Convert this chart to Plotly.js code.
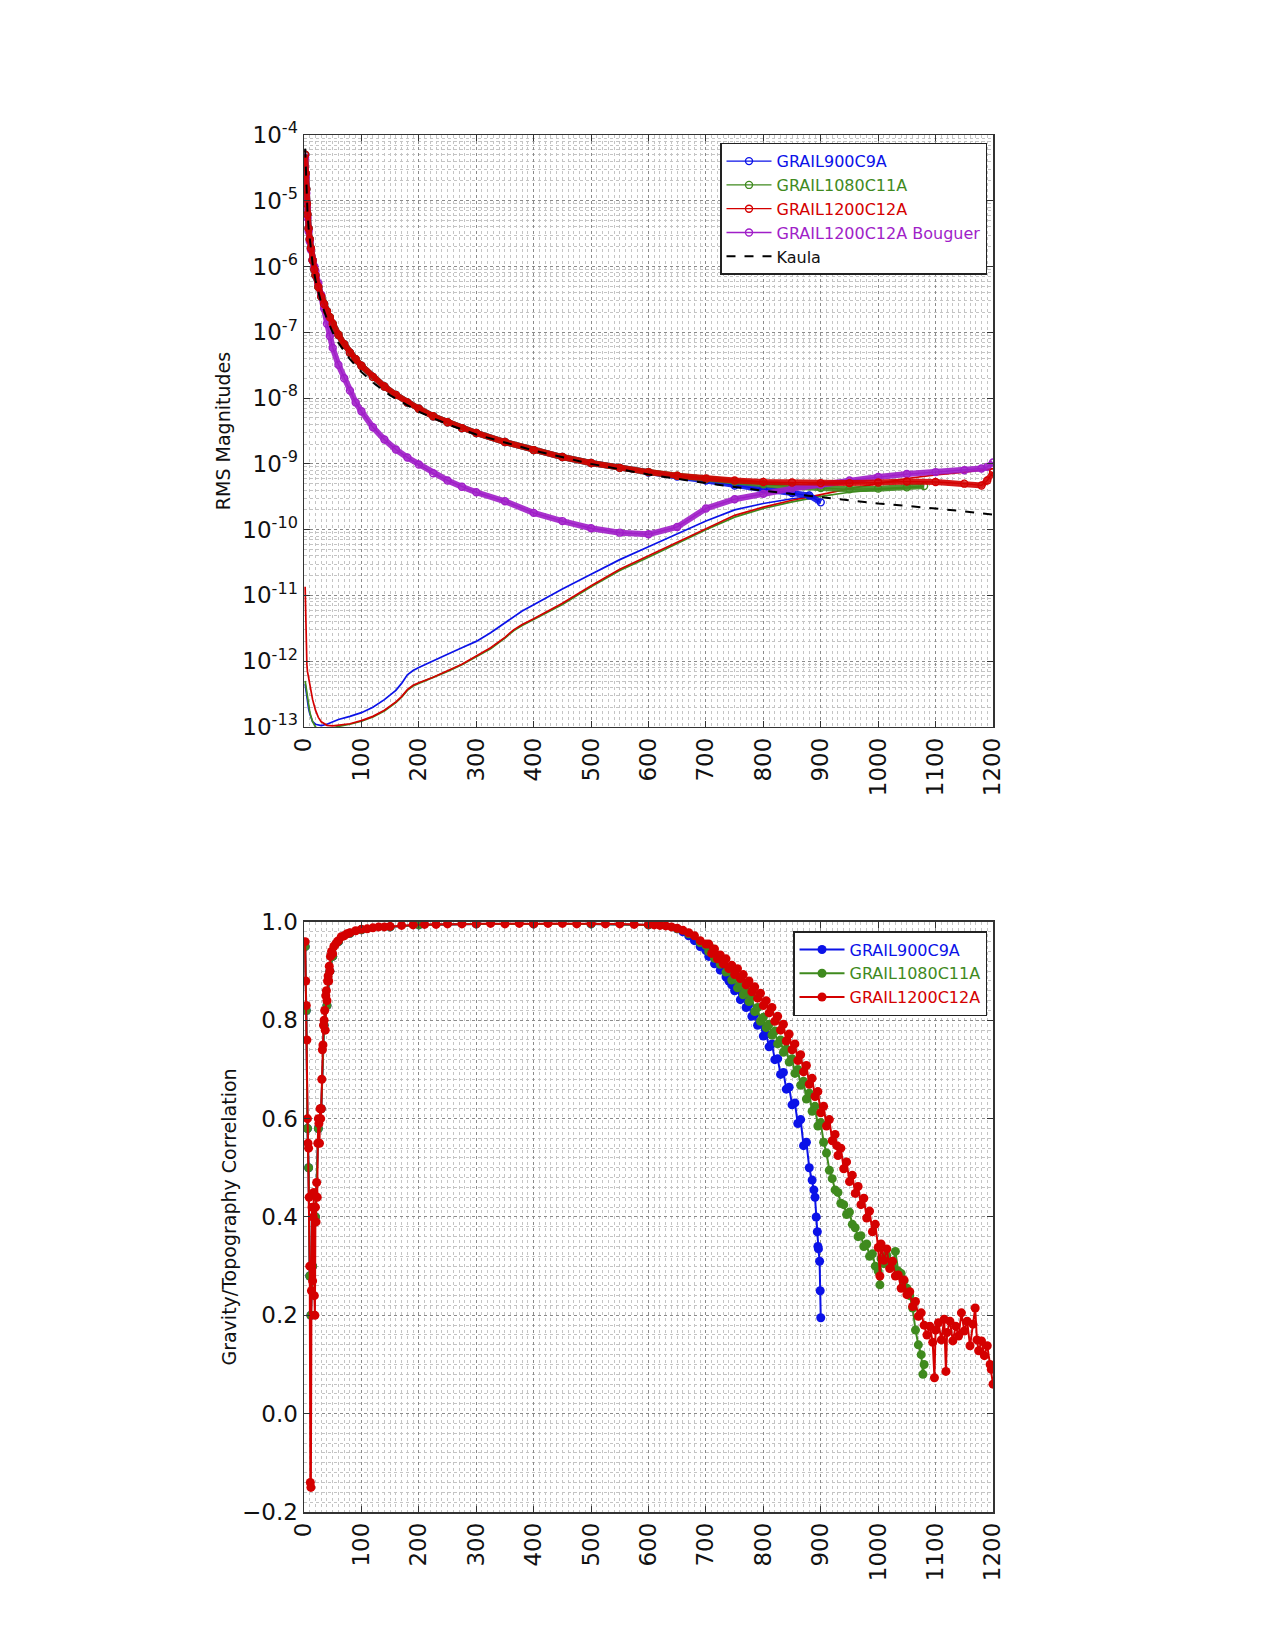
<!DOCTYPE html>
<html>
<head>
<meta charset="utf-8">
<script src="https://cdn.plot.ly/plotly-3.0.1.min.js"></script>
<style>
  body { margin: 0; background: white; }
  #chart { width: 1275px; height: 1650px; }
</style>
</head>
<body>
<div id="chart"></div>
<script>
// ---- top panel: RMS magnitudes per degree ----
var sigDeg = [2,3,4,5,6,8,10,12,15,18,20,25,30,35,40,45,50,60,70,80,90,100,120,140,160,180,200,225,250,275,
              300,350,400,450,500,550,600,650,700,750,800,850,900,950,1000,1050,1100,1150,1180,1190,1200];

var sig1200 = [5e-5,2.6e-5,1.5e-5,9e-6,6.2e-6,3.8e-6,2.6e-6,1.9e-6,1.25e-6,9e-7,
               7.4e-7,4.9e-7,3.5e-7,2.7e-7,2.1e-7,1.7e-7,1.35e-7,9.2e-8,6.6e-8,4.9e-8,
               3.9e-8,3.1e-8,2.1e-8,1.5e-8,1.12e-8,8.6e-9,6.9e-9,5.3e-9,4.3e-9,3.5e-9,
               2.95e-9,2.15e-9,1.62e-9,1.27e-9,1.03e-9,8.7e-10,7.5e-10,6.6e-10,6e-10,5.6e-10,
               5.3e-10,5.2e-10,5.1e-10,5.1e-10,5.2e-10,5.4e-10,5.3e-10,5e-10,4.7e-10,5.6e-10,7.5e-10];

var sigDeg900 = [2,3,4,5,6,8,10,12,15,18,20,25,30,35,40,45,50,60,70,80,90,100,120,140,160,180,200,225,250,275,
                 300,350,400,450,500,550,600,650,700,750,800,850,880,900];
var sig900 = [5e-5,2.6e-5,1.5e-5,9e-6,6.2e-6,3.8e-6,2.6e-6,1.9e-6,1.25e-6,9e-7,
              7.3e-7,4.9e-7,3.5e-7,2.7e-7,2.1e-7,1.7e-7,1.34e-7,9.1e-8,6.6e-8,4.9e-8,
              3.9e-8,3.1e-8,2.1e-8,1.5e-8,1.12e-8,8.6e-9,6.9e-9,5.3e-9,4.3e-9,3.5e-9,
              2.95e-9,2.15e-9,1.62e-9,1.27e-9,1.03e-9,8.7e-10,7.4e-10,6.4e-10,5.6e-10,4.7e-10,
              4.1e-10,3.6e-10,3.3e-10,2.6e-10];

var sigDeg1080 = [2,3,4,5,6,8,10,12,15,18,20,25,30,35,40,45,50,60,70,80,90,100,120,140,160,180,200,225,250,275,
                  300,350,400,450,500,550,600,650,700,750,800,850,900,950,1000,1050,1080];
var sig1080 = [5e-5,2.6e-5,1.5e-5,9e-6,6.2e-6,3.8e-6,2.6e-6,1.9e-6,1.25e-6,9e-7,
               7.4e-7,4.9e-7,3.5e-7,2.7e-7,2.1e-7,1.7e-7,1.35e-7,9.2e-8,6.6e-8,4.9e-8,
               3.9e-8,3.1e-8,2.1e-8,1.5e-8,1.12e-8,8.6e-9,6.9e-9,5.3e-9,4.3e-9,3.5e-9,
               2.95e-9,2.15e-9,1.62e-9,1.27e-9,1.03e-9,8.7e-10,7.5e-10,6.6e-10,5.9e-10,5.4e-10,
               4.9e-10,4.5e-10,4.3e-10,4.1e-10,4.2e-10,4.4e-10,4.6e-10];

var sigBouguer = [4.5e-5,2.3e-5,1.3e-5,8e-6,5.5e-6,3.4e-6,2.4e-6,1.8e-6,1.25e-6,1e-6,
                  8.5e-7,5.6e-7,3.7e-7,2.3e-7,1.35e-7,8.8e-8,5.8e-8,3.2e-8,2e-8,1.3e-8,
                  8.6e-9,6.3e-9,3.6e-9,2.35e-9,1.65e-9,1.25e-9,9.8e-10,7.2e-10,5.6e-10,4.5e-10,
                  3.7e-10,2.7e-10,1.8e-10,1.35e-10,1.05e-10,9e-11,8.5e-11,1.1e-10,2.1e-10,2.9e-10,
                  3.5e-10,4.2e-10,4.8e-10,5.6e-10,6.3e-10,7e-10,7.5e-10,8e-10,8.5e-10,9e-10,1.05e-9];

var kaulaDeg = [2,3,4,5,6,8,10,12,15,20,25,30,40,50,60,80,100,125,150,200,250,300,400,500,600,700,800,900,1000,1100,1200];
var kaula = [6.2e-5,2.8e-5,1.6e-5,1e-5,6.9e-6,3.9e-6,2.5e-6,1.7e-6,1.1e-6,6.2e-7,
             4e-7,2.8e-7,1.6e-7,1e-7,6.9e-8,3.9e-8,2.5e-8,1.6e-8,1.1e-8,6.2e-9,
             4e-9,2.8e-9,1.6e-9,1e-9,6.9e-10,5.1e-10,3.9e-10,3.1e-10,2.5e-10,2.1e-10,1.7e-10];

var errDeg = [2,3,4,5,6,8,10,12,15,20,25,30,40,50,60,80,100,120,140,160,170,180,190,200,225,250,275,300,325,350,
              365,380,400,450,500,550,600,650,700,750,800,850,900,950,1000,1050,1100,1150,1200];
var err1200 = [1.35e-11,3e-12,1.5e-12,9e-13,7e-13,5.5e-13,4.5e-13,3.6e-13,2.6e-13,1.8e-13,
               1.4e-13,1.2e-13,1.06e-13,1.04e-13,1.06e-13,1.12e-13,1.25e-13,1.45e-13,1.8e-13,2.4e-13,
               2.9e-13,3.7e-13,4.3e-13,4.7e-13,5.7e-13,7.1e-13,9e-13,1.2e-12,1.6e-12,2.3e-12,
               3e-12,3.6e-12,4.4e-12,7.6e-12,1.4e-11,2.5e-11,4e-11,6.5e-11,1.05e-10,1.65e-10,
               2.2e-10,2.8e-10,3.4e-10,4.2e-10,5e-10,6e-10,6.8e-10,7.5e-10,8.5e-10];

var errDeg1080 = [2,3,4,5,6,8,10,12,15,20,25,30,40,50,60,80,100,120,140,160,170,180,190,200,225,250,275,300,325,350,
                  365,380,400,450,500,550,600,650,700,750,800,850,900,950,1000,1050,1080];
var err1080 = [5e-13,4.3e-13,3.6e-13,3e-13,2.6e-13,2e-13,1.7e-13,1.45e-13,1.2e-13,1e-13,
               9.2e-14,8.8e-14,9e-14,9.6e-14,1.02e-13,1.1e-13,1.22e-13,1.42e-13,1.75e-13,2.35e-13,
               2.85e-13,3.6e-13,4.2e-13,4.6e-13,5.6e-13,7e-13,8.8e-13,1.17e-12,1.55e-12,2.25e-12,
               2.9e-12,3.5e-12,4.3e-12,7.3e-12,1.35e-11,2.4e-11,3.8e-11,6.2e-11,1e-10,1.55e-10,
               2.1e-10,2.65e-10,3.2e-10,3.7e-10,4.1e-10,4.3e-10,4.5e-10];

var errDeg900 = [2,3,4,5,6,8,10,12,15,20,25,30,40,50,60,80,100,120,140,160,170,180,190,200,225,250,275,300,325,350,
                 365,380,400,450,500,550,600,650,700,750,800,850,900];
var err900 = [4.5e-13,3.8e-13,3.2e-13,2.8e-13,2.4e-13,1.9e-13,1.6e-13,1.4e-13,1.2e-13,1.1e-13,
              1.06e-13,1.05e-13,1.1e-13,1.2e-13,1.3e-13,1.45e-13,1.65e-13,2e-13,2.6e-13,3.6e-13,
              4.6e-13,6.2e-13,7.2e-13,8e-13,1.02e-12,1.28e-12,1.6e-12,2e-12,2.7e-12,3.8e-12,
              4.8e-12,5.8e-12,7.2e-12,1.25e-11,2.1e-11,3.5e-11,5.5e-11,8.7e-11,1.35e-10,2e-10,
              2.5e-10,2.95e-10,3.3e-10];

var logTickVals = [1e-13,1e-12,1e-11,1e-10,1e-9,1e-8,1e-7,1e-6,1e-5,1e-4];
var logTickText = ['10<sup>-13</sup>','10<sup>-12</sup>','10<sup>-11</sup>','10<sup>-10</sup>','10<sup>-9</sup>',
                   '10<sup>-8</sup>','10<sup>-7</sup>','10<sup>-6</sup>','10<sup>-5</sup>','10<sup>-4</sup>'];

// ---- bottom panel: gravity/topography correlation, [degree, value] ----
var corr1200 = [[2,0.96],[3,0.88],[4,0.83],[5,0.76],[6,0.60],[7,0.55],[8,0.54],[9,0.44],[10,0.30],[11,-0.14],
  [12,-0.15],[13,0.25],[14,0.42],[15,0.27],[16,0.40],[17,0.45],[18,0.24],[19,0.20],[20,0.42],[21,0.39],
  [22,0.47],[23,0.44],[24,0.55],[25,0.60],[26,0.59],[27,0.55],[28,0.62],[29,0.60],[30,0.62],[31,0.68],
  [32,0.74],[33,0.75],[34,0.79],[35,0.80],[36,0.82],[37,0.78],[38,0.85],[39,0.86],[40,0.84],[41,0.88],
  [42,0.89],[43,0.88],[44,0.91],[45,0.90],[46,0.93],[48,0.94],[50,0.935],[52,0.95],[55,0.955],[58,0.96],
  [60,0.962],[65,0.97],[70,0.972],[75,0.976],[80,0.978],[90,0.982],[100,0.985],[110,0.986],[120,0.988],
  [130,0.99],[140,0.99],[150,0.991],[170,0.993],[190,0.994],[210,0.995],[230,0.995],[250,0.996],[275,0.996],
  [300,0.996],[325,0.997],[350,0.996],[375,0.997],[400,0.996],[425,0.997],[450,0.997],[475,0.996],[500,0.997],
  [525,0.996],[550,0.996],[575,0.995],[600,0.995],[610,0.994],[620,0.993],[630,0.992],[640,0.99],[650,0.987],
  [660,0.983],[670,0.978],[680,0.972],[690,0.962],[700,0.955],[705,0.955],[710,0.936],[715,0.945],[720,0.925],
  [725,0.933],[730,0.915],[735,0.925],[740,0.905],[745,0.912],[750,0.893],[755,0.905],[760,0.885],[765,0.893],
  [770,0.872],[775,0.880],[780,0.858],[785,0.868],[790,0.845],[795,0.855],[800,0.830],[805,0.840],[810,0.815],
  [815,0.826],[820,0.798],[825,0.808],[830,0.780],[835,0.792],[840,0.758],[845,0.772],[850,0.740],[855,0.752],
  [860,0.718],[865,0.730],[870,0.695],[875,0.708],[880,0.670],[885,0.682],[890,0.645],[895,0.655],[900,0.612],
  [905,0.625],[910,0.585],[915,0.598],[920,0.555],[925,0.568],[928,0.545],[930,0.525],[935,0.540],[940,0.498],
  [945,0.512],[950,0.472],[955,0.485],[960,0.448],[965,0.462],[970,0.425],[975,0.438],[980,0.398],[985,0.412],
  [990,0.370],[995,0.385],[1000,0.338],[1003,0.280],[1005,0.345],[1010,0.312],[1015,0.335],[1020,0.295],
  [1025,0.310],[1030,0.280],[1035,0.282],[1040,0.255],[1045,0.272],[1050,0.242],[1055,0.248],[1060,0.218],
  [1065,0.228],[1070,0.198],[1075,0.205],[1080,0.180],[1085,0.160],[1090,0.178],[1095,0.145],[1098,0.073],
  [1100,0.170],[1105,0.185],[1110,0.150],[1115,0.192],[1118,0.086],[1120,0.165],[1125,0.188],[1130,0.148],
  [1135,0.178],[1140,0.158],[1145,0.205],[1150,0.168],[1155,0.188],[1160,0.138],[1165,0.182],[1169,0.215],
  [1172,0.150],[1175,0.128],[1180,0.148],[1185,0.118],[1190,0.138],[1195,0.100],[1197,0.090],[1200,0.060]];

var corr1080 = [[2,0.95],[4,0.82],[6,0.58],[8,0.50],[10,0.28],[12,0.20],[15,0.30],[20,0.40],[25,0.58],[30,0.62],
  [35,0.79],[40,0.83],[45,0.90],[50,0.93],[60,0.96],[80,0.977],[100,0.984],[150,0.99],[200,0.994],[300,0.996],
  [400,0.996],[500,0.996],[600,0.994],[650,0.986],[670,0.976],[690,0.958],[700,0.952],[705,0.940],[710,0.946],
  [715,0.926],[720,0.932],[725,0.914],[730,0.918],[735,0.898],[740,0.902],[745,0.882],[750,0.888],[755,0.866],
  [760,0.874],[765,0.852],[770,0.862],[775,0.838],[780,0.848],[785,0.818],[790,0.826],[795,0.798],[800,0.806],
  [805,0.785],[810,0.792],[815,0.770],[820,0.778],[825,0.752],[830,0.760],[835,0.735],[840,0.742],[845,0.715],
  [850,0.722],[855,0.692],[860,0.700],[865,0.668],[870,0.676],[875,0.640],[880,0.652],[885,0.615],[890,0.625],
  [895,0.585],[900,0.592],[905,0.552],[910,0.530],[915,0.495],[920,0.478],[925,0.455],[930,0.450],[935,0.428],
  [940,0.425],[945,0.405],[950,0.410],[955,0.385],[960,0.378],[965,0.360],[970,0.362],[975,0.340],[980,0.345],
  [985,0.320],[990,0.325],[995,0.300],[1000,0.290],[1003,0.262],[1005,0.315],[1010,0.305],[1015,0.322],
  [1020,0.310],[1025,0.300],[1030,0.330],[1035,0.290],[1040,0.285],[1045,0.270],[1050,0.255],[1055,0.240],
  [1060,0.215],[1065,0.170],[1070,0.140],[1075,0.120],[1078,0.080],[1080,0.100]];

var corr900 = [[2,0.95],[4,0.82],[6,0.58],[8,0.50],[10,0.28],[12,0.20],[15,0.30],[20,0.40],[25,0.58],[30,0.62],
  [35,0.79],[40,0.83],[45,0.90],[50,0.93],[60,0.96],[80,0.977],[100,0.984],[150,0.99],[200,0.994],[300,0.996],
  [400,0.996],[500,0.996],[600,0.994],[650,0.986],[660,0.980],[670,0.972],[680,0.962],[690,0.950],[700,0.942],
  [705,0.930],[710,0.934],[715,0.915],[720,0.920],[725,0.902],[730,0.906],[735,0.888],[740,0.880],[745,0.872],
  [750,0.860],[755,0.864],[760,0.842],[765,0.850],[770,0.826],[775,0.832],[780,0.808],[785,0.812],[790,0.790],
  [795,0.794],[800,0.768],[805,0.772],[810,0.746],[815,0.752],[820,0.720],[825,0.722],[830,0.690],[835,0.694],
  [840,0.660],[845,0.664],[850,0.628],[855,0.632],[860,0.590],[865,0.598],[870,0.545],[875,0.552],[880,0.500],
  [885,0.475],[888,0.455],[890,0.440],[892,0.400],[894,0.370],[895,0.340],[896,0.335],[898,0.310],[899,0.250],
  [900,0.195]];

var BLUE = '#0b12e8', GREEN = '#3f8a1e', RED = '#d40000', PURPLE = '#a01ec8';
var FONT = 'DejaVu Sans, sans-serif';

function label(text, color)
{
    return '<span style="color:' + color + '">' + text + '</span>';
}

// wide band under the open circles, to mimic the dense per-degree markers
function bandTrace(x, y, color)
{
    return {
        x: x, y: y, xaxis: 'x', yaxis: 'y', mode: 'lines', showlegend: false,
        line: {color: color, width: 6}, opacity: 0.9
    };
}

function signalTrace(x, y, name, color, rank)
{
    return {
        x: x, y: y, xaxis: 'x', yaxis: 'y',
        mode: 'lines+markers', name: label(name, color), legendrank: rank,
        line: {color: color, width: 1.3},
        marker: {symbol: 'circle-open', size: 7, color: color, line: {width: 1.4, color: color}}
    };
}

function errorTrace(x, y, color)
{
    return {
        x: x, y: y, xaxis: 'x', yaxis: 'y', mode: 'lines', showlegend: false,
        line: {color: color, width: 1.7}
    };
}

function corrTrace(points, name, color)
{
    return {
        x: points.map(function(p) { return p[0]; }),
        y: points.map(function(p) { return p[1]; }),
        xaxis: 'x2', yaxis: 'y2', legend: 'legend2',
        mode: 'lines+markers', name: label(name, color),
        line: {color: color, width: 2},
        marker: {symbol: 'circle', size: 9, color: color}
    };
}

var traces = [
    errorTrace(errDeg900, err900, BLUE),
    errorTrace(errDeg1080, err1080, GREEN),
    errorTrace(errDeg, err1200, RED),
    bandTrace(sigDeg900, sig900, BLUE),
    signalTrace(sigDeg900, sig900, 'GRAIL900C9A', BLUE, 1),
    bandTrace(sigDeg1080, sig1080, GREEN),
    signalTrace(sigDeg1080, sig1080, 'GRAIL1080C11A', GREEN, 2),
    bandTrace(sigDeg, sigBouguer, PURPLE),
    signalTrace(sigDeg, sigBouguer, 'GRAIL1200C12A Bouguer', PURPLE, 4),
    bandTrace(sigDeg, sig1200, RED),
    signalTrace(sigDeg, sig1200, 'GRAIL1200C12A', RED, 3),
    {
        x: kaulaDeg, y: kaula, xaxis: 'x', yaxis: 'y', mode: 'lines', name: 'Kaula', legendrank: 5,
        line: {color: '#000', width: 2, dash: 'dash'}
    },
    corrTrace(corr900, 'GRAIL900C9A', BLUE),
    corrTrace(corr1080, 'GRAIL1080C11A', GREEN),
    corrTrace(corr1200, 'GRAIL1200C12A', RED)
];

function xAxis(anchor)
{
    return {
        anchor: anchor, range: [0, 1200], dtick: 100, tick0: 0, tickangle: -90,
        ticks: 'inside', ticklen: 6, tickcolor: '#333', mirror: 'allticks',
        showline: true, linecolor: '#333', linewidth: 1.5, zeroline: false,
        showgrid: true, gridcolor: '#8a8a8a', griddash: 'dot', gridwidth: 1,
        minor: {dtick: 10, showgrid: true, gridcolor: '#c4c4c4', griddash: 'dot', gridwidth: 1, ticks: ''},
        tickfont: {family: FONT, size: 23, color: '#111'}
    };
}

var layout = {
    width: 1275, height: 1650,
    margin: {l: 304, r: 282, t: 135, b: 138},
    paper_bgcolor: 'white', plot_bgcolor: 'white',
    font: {family: FONT, color: '#111'},
    showlegend: true,
    xaxis: xAxis('y'),
    xaxis2: xAxis('y2'),
    yaxis: {
        domain: [0.5701, 1], type: 'log', range: [-13, -4],
        tickmode: 'array', tickvals: logTickVals, ticktext: logTickText,
        ticks: 'inside', ticklen: 6, tickcolor: '#333', mirror: 'allticks',
        showline: true, linecolor: '#333', linewidth: 1.5, zeroline: false,
        showgrid: true, gridcolor: '#8a8a8a', griddash: 'dot', gridwidth: 1,
        minor: {dtick: 'D1', showgrid: true, gridcolor: '#c4c4c4', griddash: 'dot', gridwidth: 1, ticks: ''},
        tickfont: {family: FONT, size: 23, color: '#111'},
        title: {text: 'RMS Magnitudes', font: {family: FONT, size: 19, color: '#111'}, standoff: 6}
    },
    yaxis2: {
        domain: [0, 0.4285], range: [-0.2, 1.0], dtick: 0.2, tick0: 0, tickformat: '.1f',
        ticks: 'inside', ticklen: 6, tickcolor: '#333', mirror: 'allticks',
        showline: true, linecolor: '#333', linewidth: 1.5, zeroline: false,
        showgrid: true, gridcolor: '#8a8a8a', griddash: 'dot', gridwidth: 1,
        minor: {dtick: 0.02, showgrid: true, gridcolor: '#c4c4c4', griddash: 'dot', gridwidth: 1, ticks: ''},
        tickfont: {family: FONT, size: 23, color: '#111'},
        title: {text: 'Gravity/Topography Correlation', font: {family: FONT, size: 19, color: '#111'}, standoff: 0}
    },
    legend: {
        x: 0.9913, xanchor: 'right', y: 0.9944, yanchor: 'top',
        bgcolor: 'white', bordercolor: '#222', borderwidth: 1.5,
        font: {family: FONT, size: 16, color: '#111'}, itemwidth: 45, traceorder: 'normal'
    },
    legend2: {
        x: 0.9913, xanchor: 'right', y: 0.4219, yanchor: 'top',
        bgcolor: 'white', bordercolor: '#222', borderwidth: 1.5,
        font: {family: FONT, size: 16, color: '#111'}, itemwidth: 45
    }
};

Plotly.newPlot('chart', traces, layout, {staticPlot: true, displayModeBar: false});
</script>
</body>
</html>
